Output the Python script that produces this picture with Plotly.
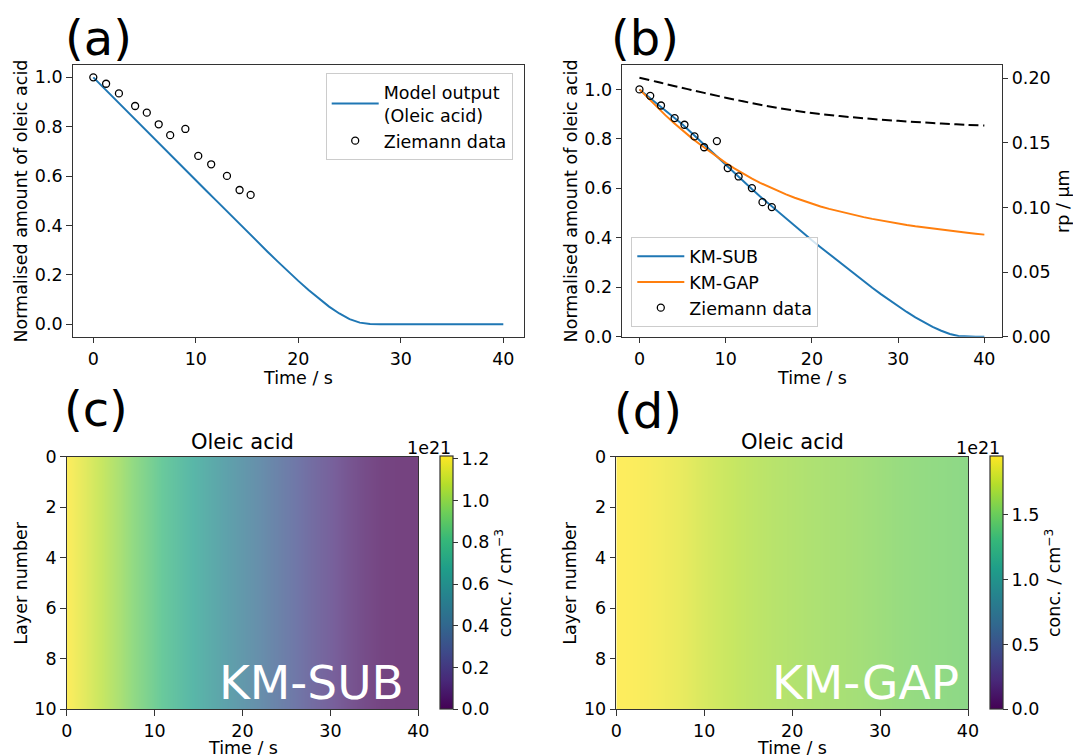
import plotly.graph_objects as go
import plotly.colors as pc

# ---------------- data ----------------
time_s = [0, 1, 2, 3, 4, 5, 6, 7, 8, 9, 10, 11, 12, 13, 14, 15, 16, 17, 18, 19, 20,
          21, 22, 23, 24, 25, 26, 27, 28, 29, 30, 31, 32, 33, 34, 35, 36, 37, 38, 39, 40]

# panel (a): model output (oleic acid)
model_a = [1.000, 0.958, 0.917, 0.875, 0.834, 0.792, 0.750, 0.709, 0.667, 0.626,
           0.584, 0.542, 0.501, 0.459, 0.418, 0.376, 0.335, 0.294, 0.254, 0.214,
           0.176, 0.139, 0.104, 0.072, 0.044, 0.021, 0.007, 0.001, 0.0, 0.0,
           0.0, 0.0, 0.0, 0.0, 0.0, 0.0, 0.0, 0.0, 0.0, 0.0, 0.0]

# Ziemann experimental data
zie_t = [0.0, 1.25, 2.5, 4.08, 5.22, 6.38, 7.5, 8.98, 10.24, 11.5, 13.04, 14.27, 15.35]
zie_y = [1.0, 0.974, 0.935, 0.884, 0.857, 0.810, 0.766, 0.791, 0.682, 0.648, 0.601, 0.544, 0.524]

# panel (b): KM-SUB and KM-GAP
km_sub = [1.000, 0.972, 0.944, 0.916, 0.887, 0.858, 0.826, 0.793, 0.759, 0.726,
          0.693, 0.661, 0.629, 0.598, 0.567, 0.537, 0.507, 0.477, 0.448, 0.419,
          0.390, 0.362, 0.334, 0.306, 0.278, 0.251, 0.224, 0.198, 0.172, 0.147,
          0.123, 0.100, 0.078, 0.058, 0.040, 0.024, 0.011, 0.003, 0.0, 0.0, 0.0]
km_gap = [1.000, 0.964, 0.929, 0.896, 0.864, 0.834, 0.805, 0.778, 0.752, 0.727,
          0.703, 0.6805, 0.6595, 0.640, 0.622, 0.6053, 0.5898, 0.5753, 0.5618, 0.5491,
          0.537, 0.5267, 0.5170, 0.5079, 0.4993, 0.4912, 0.4836, 0.4764, 0.4696, 0.4632,
          0.4571, 0.4516, 0.4464, 0.4415, 0.4368, 0.4323, 0.4280, 0.4239, 0.4200, 0.4163, 0.4128]

# particle radius (KM-GAP), µm
rp_t = [0, 2, 4, 6, 8, 10, 12, 14, 16, 18, 20, 22, 24, 26, 28, 30, 32, 34, 36, 38, 40]
rp_um = [0.2005, 0.1973, 0.1941, 0.1910, 0.1880, 0.1850, 0.1822, 0.1795, 0.1771, 0.1750,
         0.1731, 0.1716, 0.1703, 0.1691, 0.1680, 0.1671, 0.1662, 0.1654, 0.1647, 0.1640, 0.1634]

# panels (c), (d): layer concentrations (units of 1e21 cm^-3), uniform across layers
heat_t = [0, 2, 4, 6, 8, 10, 12, 14, 16, 18, 20, 22, 24, 26, 28, 30, 32, 34, 36, 38, 40]
sub_conc = [1.212, 1.144, 1.075, 1.001, 0.920, 0.840, 0.762, 0.687, 0.614, 0.543, 0.473,
            0.405, 0.337, 0.270, 0.206, 0.147, 0.092, 0.044, 0.008, 0.0, 0.0]
gap_conc = [1.950, 1.939, 1.919, 1.889, 1.853, 1.797, 1.752, 1.717, 1.689, 1.665, 1.647,
            1.628, 1.612, 1.598, 1.580, 1.558, 1.537, 1.522, 1.507, 1.495, 1.480]
layers = [0.5, 1.5, 2.5, 3.5, 4.5, 5.5, 6.5, 7.5, 8.5, 9.5]
sub_cmax = 1.212
gap_cmax = 1.95

# ---------------- layout helpers ----------------
W, H = 1073, 755
FONT = "DejaVu Sans"
FS = 17.5
AX = "#333333"


def fx(p):
    return p / W


def fy(p):
    return 1 - p / H


BLUE = "#1f77b4"
ORANGE = "#ff7f0e"

# viridis blended with white (heatmap drawn semi-transparent)
ALPHA = 0.74
vir = pc.sequential.Viridis
blend = []
for i, hx in enumerate(vir):
    r, g, b = pc.hex_to_rgb(hx)
    rr = round(r * ALPHA + 255 * (1 - ALPHA))
    gg = round(g * ALPHA + 255 * (1 - ALPHA))
    bb = round(b * ALPHA + 255 * (1 - ALPHA))
    blend.append([i / (len(vir) - 1), f"rgb({rr},{gg},{bb})"])

fig = go.Figure()

# (a)
fig.add_trace(go.Scatter(x=time_s, y=model_a, mode="lines", name="Model output<br>(Oleic acid)",
                         line=dict(color=BLUE, width=2), xaxis="x", yaxis="y", legend="legend"))
fig.add_trace(go.Scatter(x=zie_t, y=zie_y, mode="markers", name="Ziemann data",
                         marker=dict(symbol="circle", size=7, color="rgba(0,0,0,0)",
                                     line=dict(color="black", width=1.3)),
                         xaxis="x", yaxis="y", legend="legend"))

# (b)
fig.add_trace(go.Scatter(x=time_s, y=km_sub, mode="lines", name="KM-SUB",
                         line=dict(color=BLUE, width=2), xaxis="x2", yaxis="y2", legend="legend2"))
fig.add_trace(go.Scatter(x=time_s, y=km_gap, mode="lines", name="KM-GAP",
                         line=dict(color=ORANGE, width=2), xaxis="x2", yaxis="y2", legend="legend2"))
fig.add_trace(go.Scatter(x=zie_t, y=zie_y, mode="markers", name="Ziemann data",
                         marker=dict(symbol="circle", size=7, color="rgba(0,0,0,0)",
                                     line=dict(color="black", width=1.3)),
                         xaxis="x2", yaxis="y2", legend="legend2"))
fig.add_trace(go.Scatter(x=rp_t, y=rp_um, mode="lines", showlegend=False,
                         line=dict(color="black", width=2, dash="10px,4.5px", shape="spline"),
                         xaxis="x2", yaxis="y3"))

# (c) and (d) heatmaps
fig.add_trace(go.Heatmap(x=heat_t, y=layers, z=[sub_conc for _ in layers], zmin=0, zmax=sub_cmax,
                         colorscale=blend, showscale=False, zsmooth="best",
                         xaxis="x3", yaxis="y4", hoverinfo="skip"))
fig.add_trace(go.Heatmap(x=heat_t, y=layers, z=[gap_conc for _ in layers], zmin=0, zmax=gap_cmax,
                         colorscale=blend, showscale=False, zsmooth="best",
                         xaxis="x4", yaxis="y5", hoverinfo="skip"))


def cbar(x_left, ticks, fmt):
    return dict(x=fx(x_left), xanchor="left", xpad=0, y=fy(709.3), yanchor="bottom", ypad=0,
                len=(709.3 - 456.7) / H, lenmode="fraction", thickness=12.5, thicknessmode="pixels",
                outlinewidth=1.2, outlinecolor=AX, ticks="outside", ticklen=5, tickwidth=1.2,
                tickcolor=AX, tickvals=ticks, ticktext=[fmt.format(t) for t in ticks],
                tickfont=dict(family=FONT, size=FS, color="black"))


fig.add_trace(go.Scatter(x=[None], y=[None], mode="markers", showlegend=False, hoverinfo="skip",
                         marker=dict(color=[0], cmin=0, cmax=sub_cmax, colorscale="Viridis",
                                     showscale=True,
                                     colorbar=cbar(440, [0, 0.2, 0.4, 0.6, 0.8, 1.0, 1.2], "{:.1f}")),
                         xaxis="x3", yaxis="y4"))
fig.add_trace(go.Scatter(x=[None], y=[None], mode="markers", showlegend=False, hoverinfo="skip",
                         marker=dict(color=[0], cmin=0, cmax=gap_cmax, colorscale="Viridis",
                                     showscale=True,
                                     colorbar=cbar(990.3, [0, 0.5, 1.0, 1.5], "{:.1f}")),
                         xaxis="x4", yaxis="y5"))

axcommon = dict(showline=True, linecolor=AX, linewidth=1.2, mirror=True, ticks="outside",
                ticklen=5.5, tickwidth=1.2, tickcolor=AX, showgrid=False, zeroline=False,
                tickfont=dict(family=FONT, size=FS, color="black"))
xcommon = dict(axcommon, ticklabelstandoff=1)

top_dom = [fy(336.7), fy(65)]
bot_dom = [fy(709.3), fy(456.7)]

legend_style = dict(bgcolor="rgba(255,255,255,0.8)", bordercolor="#cccccc", borderwidth=1,
                    itemwidth=47, font=dict(family=FONT, size=FS, color="black"))

fig.update_layout(
    width=W, height=H, margin=dict(l=0, r=0, t=0, b=0, pad=0, autoexpand=False),
    paper_bgcolor="white", plot_bgcolor="white",
    font=dict(family=FONT, size=FS, color="black"),
    xaxis=dict(domain=[fx(72.8), fx(523.8)], range=[-2, 42], tickvals=[0, 10, 20, 30, 40],
               anchor="y", **xcommon),
    yaxis=dict(domain=top_dom, range=[-0.05, 1.05], tickvals=[0, 0.2, 0.4, 0.6, 0.8, 1.0],
               ticktext=["0.0", "0.2", "0.4", "0.6", "0.8", "1.0"], anchor="x", **axcommon),
    xaxis2=dict(domain=[fx(622.2), fx(1001.6)], range=[-2, 42], tickvals=[0, 10, 20, 30, 40],
                anchor="y2", **xcommon),
    yaxis2=dict(domain=top_dom, range=[0, 1.0987], tickvals=[0, 0.2, 0.4, 0.6, 0.8, 1.0],
                ticktext=["0.0", "0.2", "0.4", "0.6", "0.8", "1.0"], anchor="x2", **axcommon),
    yaxis3=dict(overlaying="y2", side="right", anchor="x2", range=[0, 0.2103],
                tickvals=[0, 0.05, 0.10, 0.15, 0.20],
                ticktext=["0.00", "0.05", "0.10", "0.15", "0.20"],
                showline=True, linecolor=AX, linewidth=1.2, ticks="outside", ticklen=5.5,
                tickwidth=1.2, tickcolor=AX, showgrid=False, zeroline=False,
                tickfont=dict(family=FONT, size=FS, color="black")),
    xaxis3=dict(domain=[fx(66.7), fx(418.3)], range=[0, 40], tickvals=[0, 10, 20, 30, 40],
                anchor="y4", **axcommon),
    yaxis4=dict(domain=bot_dom, range=[10, 0], tickvals=[0, 2, 4, 6, 8, 10], anchor="x3", **axcommon),
    xaxis4=dict(domain=[fx(616.3), fx(968)], range=[0, 40], tickvals=[0, 10, 20, 30, 40],
                anchor="y5", **axcommon),
    yaxis5=dict(domain=bot_dom, range=[10, 0], tickvals=[0, 2, 4, 6, 8, 10], anchor="x4", **axcommon),
    legend=dict(x=fx(325.7), y=fy(73.3), xanchor="left", yanchor="top", **legend_style),
    legend2=dict(x=fx(631.3), y=fy(327.3), xanchor="left", yanchor="bottom", **legend_style),
)

ann = []


def add_text(text, x, y, size=FS, xanchor="center", yanchor="middle", angle=0, color="black"):
    ann.append(dict(text=text, x=fx(x), y=fy(y), xref="paper", yref="paper", showarrow=False,
                    xanchor=xanchor, yanchor=yanchor, textangle=angle,
                    font=dict(family=FONT, size=size, color=color)))


# panel labels
add_text("(a)", 63, 38, size=48, xanchor="left")
add_text("(b)", 609, 38, size=48, xanchor="left")
add_text("(c)", 61.5, 409, size=48, xanchor="left")
add_text("(d)", 612.5, 411, size=48, xanchor="left")

# axis titles
add_text("Normalised amount of oleic acid", 20.7, 200.9, angle=-90)
add_text("Time / s", 298.3, 378)
add_text("Normalised amount of oleic acid", 570.5, 200.9, angle=-90)
add_text("Time / s", 811.9, 378)
add_text("rp / µm", 1063, 200.9, angle=-90)
add_text("Layer number", 20.7, 583, angle=-90)
add_text("Time / s", 242.5, 747.5)
add_text("Layer number", 569.7, 583, angle=-90)
add_text("Time / s", 792.2, 747.5)

# heatmap titles and colorbar labels
add_text("Oleic acid", 242.5, 441.7, size=21)
add_text("Oleic acid", 792.2, 441.7, size=21)
add_text("1e21", 452.5, 447.5, xanchor="right")
add_text("1e21", 1002.0, 447.5, xanchor="right")
add_text("conc. / cm<sup>−3</sup>", 503.3, 583, angle=-90)
add_text("conc. / cm<sup>−3</sup>", 1053, 583, angle=-90)

# model names inside heatmaps
add_text("KM-SUB", 405.5, 682, size=47, xanchor="right", color="white")
add_text("KM-GAP", 961, 682, size=47, xanchor="right", color="white")

fig.update_layout(annotations=ann)

fig.write_html(
    "out.html",
    config={"displayModeBar": False},
    post_script="document.body.style.margin='0';document.body.style.overflow='hidden';"
                "document.documentElement.style.overflow='hidden';",
)
